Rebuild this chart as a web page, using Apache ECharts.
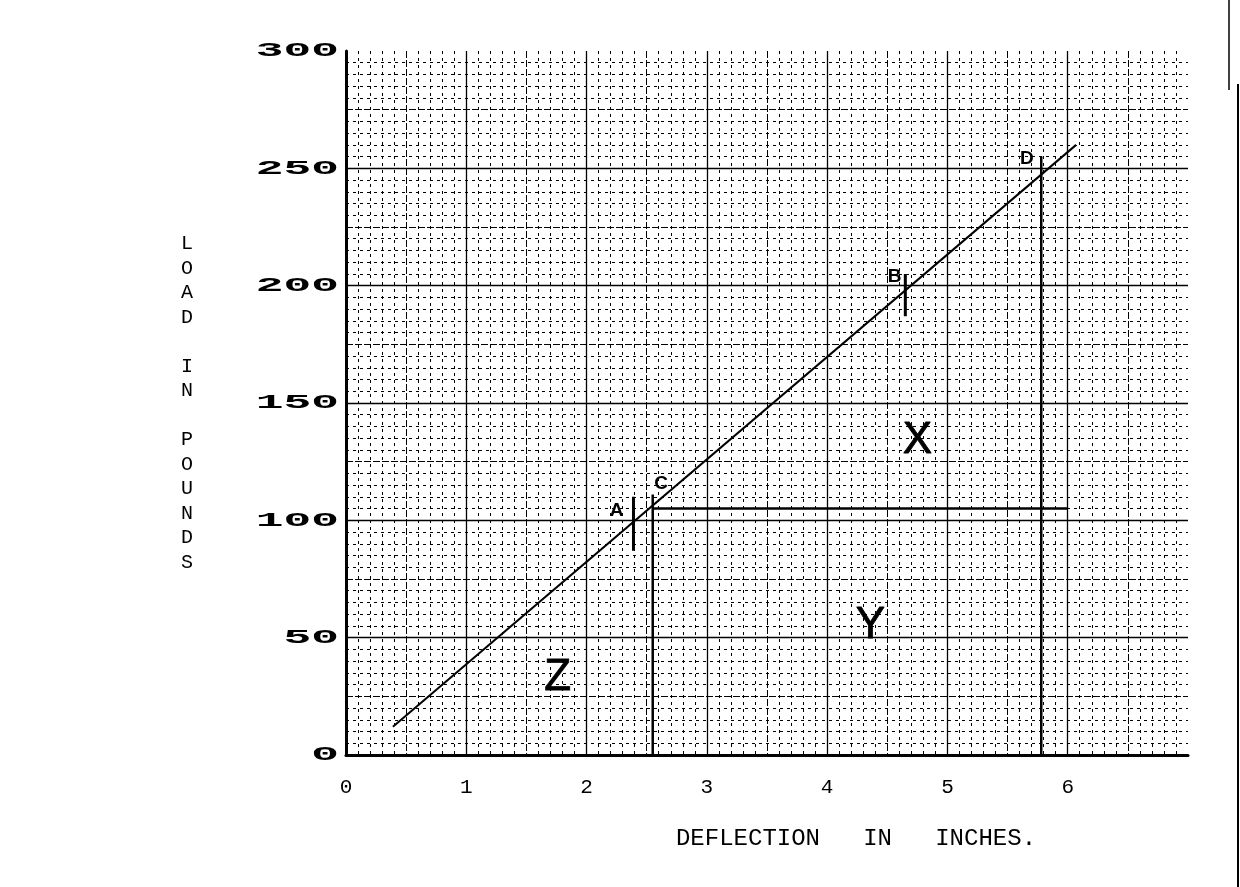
<!DOCTYPE html>
<html>
<head>
<meta charset="utf-8">
<script src="https://cdn.jsdelivr.net/npm/echarts@6/dist/echarts.min.js"></script>
<style>html,body{margin:0;padding:0;background:#fff;}#chart{width:1240px;height:887px;}</style>
</head>
<body>
<div id="chart"></div>
<script>
// ---- data ----
const xTickLabels = ['0', '1', '2', '3', '4', '5', '6'];
const yTickValues = [0, 50, 100, 150, 200, 250, 300];
const yTickLabels = ['0', '50', '100', '150', '200', '250', '300'];
const xAxisName = 'DEFLECTION   IN   INCHES.';
const yAxisName = 'LOAD IN POUNDS';

// load-deflection line
const loadLine = [[0.39, 12], [6.07, 260]];
// construction lines
const lineCVertical = [[2.55, 0], [2.55, 111]];
const lineCHorizontal = [[2.55, 105], [6.0, 105]];
const lineDVertical = [[5.78, 0], [5.78, 255]];
// short marks across the line
const markA = [[2.39, 87], [2.39, 110]];
const markB = [[4.65, 187], [4.65, 205]];

// point letters
const pointNames = ['A', 'B', 'C', 'D'];
const pointX = [2.25, 4.56, 2.62, 5.66];
const pointY = [104, 204, 115.5, 254];
// region letters
const regionNames = ['X', 'Y', 'Z'];
const regionX = [4.75, 4.36, 1.76];
const regionY = [134, 55, 33];

// ---- chart ----
const chart = echarts.init(document.getElementById('chart'), null, {renderer: 'canvas'});
const black = '#000';
const mono = '"Liberation Mono", "DejaVu Sans Mono", monospace';

function seg(data, width) {
  return {
    type: 'line', data: data, xAxisIndex: 0, yAxisIndex: 0,
    symbol: 'none', silent: true, animation: false, z: 5,
    lineStyle: {color: black, width: width}
  };
}

const option = {
  backgroundColor: '#fff',
  animation: false,
  grid: {left: 346, top: 51, right: 52, bottom: 132, containLabel: false},
  xAxis: [
    {
      type: 'value', min: 0, max: 7, interval: 1, z: 1,
      axisLine: {show: true, onZero: false, lineStyle: {color: black, width: 3}},
      axisTick: {show: false},
      axisLabel: {
        show: true, margin: 22, color: black, fontFamily: mono, fontSize: 21,
        showMaxLabel: false,
        formatter: function (v) { const i = Math.round(v); return xTickLabels[i] !== undefined ? xTickLabels[i] : ''; }
      },
      splitLine: {show: true, showMaxLine: false, lineStyle: {color: black, width: 1.3}},
      name: xAxisName, nameLocation: 'middle', nameGap: 72,
      nameTextStyle: {color: black, fontFamily: mono, fontSize: 24, padding: [0, 0, 0, 178]}
    },
    {
      type: 'value', min: 0, max: 7, interval: 0.5, position: 'top', z: 0,
      axisLine: {show: false}, axisTick: {show: false}, axisLabel: {show: false},
      splitLine: {show: true, showMaxLine: false, lineStyle: {color: black, width: 1, type: [7, 2]}},
      minorTick: {show: false, splitNumber: 5},
      minorSplitLine: {show: true, lineStyle: {color: '#000', width: 1, type: [3, 4]}}
    }
  ],
  yAxis: [
    {
      type: 'value', min: 0, max: 300, interval: 50, z: 1,
      axisLine: {show: true, onZero: false, lineStyle: {color: black, width: 3}},
      axisTick: {show: false},
      axisLabel: {show: false},
      splitLine: {show: true, showMaxLine: false, showMinLine: false, lineStyle: {color: black, width: 1.3}},
      name: yAxisName.split(' ').map(w => w.split('').join('\n')).join('\n\n'),
      nameLocation: 'middle', nameRotate: 0, nameGap: 159,
      nameTextStyle: {color: black, fontFamily: mono, fontSize: 20, lineHeight: 24.5, align: 'center', verticalAlign: 'middle'}
    },
    {
      type: 'value', min: 0, max: 300, interval: 25, position: 'right', z: 0,
      axisLine: {show: false}, axisTick: {show: false}, axisLabel: {show: false},
      splitLine: {show: true, showMaxLine: false, lineStyle: {color: black, width: 1, type: [7, 2]}},
      minorTick: {show: false, splitNumber: 5},
      minorSplitLine: {show: true, lineStyle: {color: '#000', width: 1, type: [3, 4]}}
    }
  ],
  series: [
    seg(loadLine, 2),
    seg(lineCVertical, 2.5),
    seg(lineCHorizontal, 2.5),
    seg(lineDVertical, 2.5),
    seg(markA, 3),
    seg(markB, 3),
    {
      type: 'scatter', xAxisIndex: 0, yAxisIndex: 0, symbolSize: 0, silent: true, z: 6,
      itemStyle: {opacity: 1},
      data: pointNames.map((n, i) => ({name: n, value: [pointX[i], pointY[i]]})),
      label: {show: true, position: 'inside', formatter: '{b}', color: black, opacity: 1,
        fontFamily: '"Liberation Sans", Arial, sans-serif', fontWeight: 'bold', fontSize: 19}
    },
    {
      type: 'scatter', xAxisIndex: 0, yAxisIndex: 0, symbolSize: 0, silent: true, z: 6,
      itemStyle: {opacity: 1},
      data: regionNames.map((n, i) => ({name: n, value: [regionX[i], regionY[i]]})),
      label: {show: true, position: 'inside', formatter: '{b}', color: black, opacity: 1,
        fontFamily: '"Liberation Sans", Arial, sans-serif', fontSize: 44,
        textBorderColor: black, textBorderWidth: 0.8}
    },
    {
      type: 'custom', xAxisIndex: 0, yAxisIndex: 0, silent: true, clip: false, z: 6,
      data: yTickValues.map((v, i) => [0, v, i]),
      renderItem: function (params, api) {
        const p = api.coord([0, api.value(1)]);
        return {
          type: 'text', x: p[0] - 7, y: p[1], scaleX: 2.2, scaleY: 1,
          style: {text: yTickLabels[api.value(2)], fill: black,
            font: 'bold 21px "Liberation Mono", monospace', align: 'right', verticalAlign: 'middle'}
        };
      }
    }
  ],
  graphic: [
    {type: 'line', shape: {x1: 1238, y1: 84, x2: 1238, y2: 887}, style: {stroke: black, lineWidth: 2}, silent: true},
    {type: 'line', shape: {x1: 1229, y1: 0, x2: 1229, y2: 90}, style: {stroke: black, lineWidth: 1.5}, silent: true}
  ]
};
chart.setOption(option);
</script>
</body>
</html>
